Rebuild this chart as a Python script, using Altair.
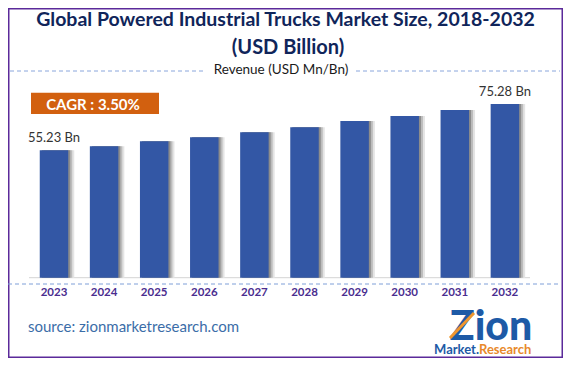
import altair as alt
import pandas as pd

years = ["2023", "2024", "2025", "2026", "2027", "2028", "2029", "2030", "2031", "2032"]
values = [55.23, 57.0, 59.1, 60.9, 63.0, 65.2, 67.9, 70.1, 72.7, 75.28]
labels = ["55.23 Bn", "", "", "", "", "", "", "", "", "75.28 Bn"]

df = pd.DataFrame({"year": years, "value": values, "label": labels, "i": list(range(len(years)))})

FONT = "Lato"
one = alt.Data(values=[{}])
STEP = 50.1
BAR_W = 28.5

xs = alt.Scale(domain=[0, 9], range=[46, 46 + 9 * STEP], nice=False, zero=False, padding=0)
ys = alt.Scale(domain=[0, 80], range=[269.7, 269.7 - 80 * 2.307], padding=0)
X = alt.X("i:Q", scale=xs, axis=None)
Y = alt.Y("value:Q", scale=ys, axis=None)


def txt(text, x, y, size, color, weight="normal", align="center", baseline="alphabetic", font=FONT):
    return alt.Chart(one).mark_text(
        text=text, fontSize=size, color=color, fontWeight=weight, align=align,
        baseline=baseline, font=font
    ).encode(x=alt.value(x), y=alt.value(y))


def hrule(x1, x2, y, color, dash=None, width=1):
    kw = dict(color=color, strokeWidth=width)
    if dash:
        kw["strokeDash"] = dash
    return alt.Chart(one).mark_rule(**kw).encode(x=alt.value(x1), x2=alt.value(x2), y=alt.value(y))


def shadow(shift, color):
    return alt.Chart(df).transform_calculate(
        s=f"datum.i + {shift / STEP}"
    ).mark_bar(fill=color, width=BAR_W).encode(
        x=alt.X("s:Q", scale=xs, axis=None), y=Y, y2=alt.datum(0)
    )


bars = alt.Chart(df).mark_bar(color="#3357a5", width=BAR_W).encode(x=X, y=Y, y2=alt.datum(0))

bar_labels = alt.Chart(df).transform_filter("datum.label != ''").mark_text(
    font=FONT, fontSize=13, color="#333333", baseline="alphabetic", dy=-8
).encode(x=X, y=Y, text="label:N")

year_labels = alt.Chart(df).mark_text(
    font=FONT, fontSize=11.5, fontWeight="bold", color="#4a2d8f", baseline="middle"
).encode(x=X, y=alt.value(285), text="year:N")

baseline = alt.Chart(one).mark_rule(color="#d4d4d4", strokeWidth=1).encode(
    x=alt.value(21), x2=alt.value(522), y=alt.value(269.7)
)

cagr_box = alt.Chart(one).mark_rect(color="#d2600f").encode(
    x=alt.value(23), x2=alt.value(151), y=alt.value(84.7), y2=alt.value(106)
)

logo_arrow = alt.Chart(one).mark_rule(color="#f0962e", strokeWidth=3).encode(
    x=alt.value(442), y=alt.value(330), x2=alt.value(466), y2=alt.value(305)
)

chart = alt.layer(
    txt("Global Powered Industrial Trucks Market Size, 2018-2032", 277.5, 18, 19.5, "#10255a", "bold"),
    txt("(USD Billion)", 280, 45.5, 20, "#10255a", "bold"),
    hrule(2, 195, 63, "#8aa6dc", [4, 3]),
    hrule(348, 552, 63, "#8aa6dc", [4, 3]),
    txt("Revenue (USD Mn/Bn)", 273, 62, 13.5, "#1a1a1a", baseline="middle"),
    cagr_box,
    txt("CAGR : 3.50%", 85, 96.5, 15, "#ffffff", "bold", baseline="middle"),
    baseline,
    shadow(6, "#e4e4e4"),
    shadow(4, "#bcbcbc"),
    shadow(2, "#8c8c8c"),
    bars,
    bar_labels,
    hrule(0, 552, 276, "#7f9fd8", [4, 3]),
    year_labels,
    txt("source: zionmarketresearch.com", 20, 323.5, 15, "#3b6da8", align="left"),
    txt("Zion", 483, 332, 41, "#1d5aa6", 900),
    logo_arrow,
    txt("Market.", 471, 346, 13, "#1d5aa6", "bold", align="right"),
    txt("Research", 471, 346, 13, "#e8892b", "bold", align="left"),
).properties(
    width=555, height=350, padding=0,
    autosize=alt.AutoSizeParams(type="none"),
).configure_view(stroke="#5b2a9a", strokeWidth=3)

chart.save("out.html", embed_options={"renderer": "svg", "actions": False})
